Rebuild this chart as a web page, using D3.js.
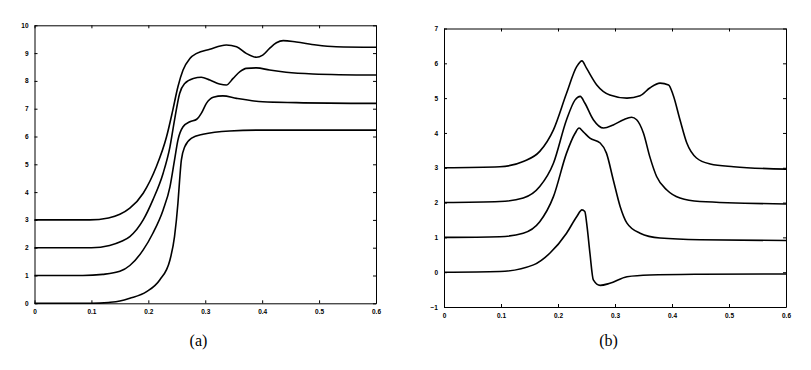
<!DOCTYPE html>
<html><head><meta charset="utf-8">
<script src="https://cdn.jsdelivr.net/npm/d3@7"></script>
<style>body{margin:0;background:#fff}svg{display:block}</style>
</head><body>
<svg id="c" width="811" height="370"></svg>
<script>
// ---- Data ----
const xTicks = [0, 0.1, 0.2, 0.3, 0.4, 0.5, 0.6];
const xTickLabels = ["0", "0.1", "0.2", "0.3", "0.4", "0.5", "0.6"];
const aYTicks = [0,1,2,3,4,5,6,7,8,9,10];
const bYTicks = [-1,0,1,2,3,4,5,6,7];
const captions = ["(a)", "(b)"];

// Panel (a): four shifted step curves
const a0 = [[0,0],[0.1,0],[0.13,0.03],[0.15,0.08],[0.1675,0.18],[0.197,0.42],[0.22,0.84],[0.238,1.56],[0.246,2.4],[0.252,3.6],[0.255,4.44],[0.258,5.15],[0.264,5.63],[0.276,5.94],[0.296,6.08],[0.343,6.2],[0.401,6.23],[0.6,6.23]];
const a1 = [[0,1],[0.085,1.0],[0.12,1.04],[0.15,1.15],[0.1675,1.36],[0.191,1.92],[0.208,2.52],[0.226,3.36],[0.238,4.19],[0.246,5.15],[0.252,5.87],[0.261,6.35],[0.273,6.53],[0.285,6.62],[0.293,6.83],[0.302,7.19],[0.314,7.41],[0.331,7.46],[0.355,7.37],[0.401,7.25],[0.46,7.22],[0.6,7.19]];
const a2 = [[0,2],[0.1,2.0],[0.132,2.08],[0.152,2.22],[0.1675,2.4],[0.191,3.0],[0.208,3.72],[0.226,4.68],[0.238,5.63],[0.246,6.59],[0.255,7.55],[0.264,7.91],[0.279,8.09],[0.293,8.13],[0.308,8.03],[0.325,7.89],[0.337,7.85],[0.349,8.09],[0.361,8.33],[0.372,8.45],[0.39,8.47],[0.413,8.39],[0.442,8.31],[0.489,8.25],[0.6,8.21]];
const a3 = [[0,3],[0.097,3.0],[0.13,3.07],[0.15,3.2],[0.1675,3.42],[0.191,3.96],[0.214,4.91],[0.232,5.99],[0.243,6.95],[0.252,7.79],[0.261,8.39],[0.273,8.81],[0.285,8.99],[0.308,9.14],[0.337,9.29],[0.355,9.23],[0.372,8.99],[0.39,8.85],[0.401,8.93],[0.413,9.17],[0.425,9.37],[0.437,9.45],[0.46,9.4],[0.495,9.29],[0.53,9.23],[0.6,9.21]];

// Panel (b): four shifted peak curves
const b0 = [[0,0],[0.098,0.02],[0.157,0.21],[0.186,0.55],[0.215,1.12],[0.233,1.6],[0.242,1.79],[0.247,1.74],[0.251,1.31],[0.256,0.55],[0.262,-0.22],[0.274,-0.38],[0.291,-0.32],[0.321,-0.13],[0.361,-0.08],[0.449,-0.06],[0.6,-0.05]];
const b1 = [[0,1],[0.098,1.02],[0.139,1.12],[0.168,1.45],[0.192,2.17],[0.215,3.42],[0.23,3.99],[0.237,4.14],[0.244,4.04],[0.256,3.85],[0.274,3.71],[0.285,3.42],[0.297,2.65],[0.309,1.89],[0.321,1.41],[0.344,1.12],[0.379,0.98],[0.449,0.93],[0.6,0.91]];
const b2 = [[0,2],[0.098,2.03],[0.139,2.13],[0.168,2.46],[0.192,3.13],[0.215,4.38],[0.23,4.95],[0.239,5.05],[0.247,4.86],[0.262,4.38],[0.28,4.14],[0.297,4.23],[0.315,4.38],[0.329,4.45],[0.338,4.38],[0.35,3.99],[0.361,3.32],[0.373,2.75],[0.391,2.36],[0.414,2.13],[0.449,2.03],[0.6,1.96]];
const b3 = [[0,3],[0.098,3.03],[0.139,3.18],[0.168,3.47],[0.192,4.09],[0.215,5.14],[0.233,5.91],[0.242,6.07],[0.25,5.86],[0.268,5.38],[0.291,5.09],[0.321,5.0],[0.344,5.07],[0.361,5.29],[0.379,5.43],[0.394,5.38],[0.402,5.09],[0.414,4.38],[0.426,3.71],[0.443,3.28],[0.467,3.11],[0.508,3.03],[0.6,2.96]];

const panels = [
  {series:[a0,a1,a2,a3], yDomain:[0,10], yTicks:aYTicks, x0:34.5, x1:376, y0:303.3, y1:25.3, cap:captions[0], capX:198.5},
  {series:[b0,b1,b2,b3], yDomain:[-1,7], yTicks:bYTicks, x0:444, x1:786, y0:307, y1:28.5, cap:captions[1], capX:608.5}
];

const svg = d3.select("#c");
const tickFont = "Liberation Sans, Arial, sans-serif";

panels.forEach(p => {
  const x = d3.scaleLinear().domain([0,0.6]).range([p.x0,p.x1]);
  const y = d3.scaleLinear().domain(p.yDomain).range([p.y0,p.y1]);
  const g = svg.append("g");

  const styleAxis = sel => {
    sel.select(".domain").attr("stroke","#000").attr("stroke-width",1);
    sel.selectAll(".tick line").attr("stroke","#000").attr("stroke-width",1);
    sel.selectAll(".tick text").attr("font-family",tickFont).attr("font-size",6.5).attr("font-weight","bold").attr("fill","#000");
  };
  g.append("g").attr("transform",`translate(0,${p.y0})`)
    .call(d3.axisBottom(x).tickValues(xTicks).tickFormat((d,i)=>xTickLabels[i]).tickSizeInner(-3).tickSizeOuter(0).tickPadding(6))
    .call(styleAxis);
  g.append("g").attr("transform",`translate(0,${p.y1})`)
    .call(d3.axisTop(x).tickValues(xTicks).tickFormat("").tickSizeInner(-3).tickSizeOuter(0))
    .call(styleAxis);
  g.append("g").attr("transform",`translate(${p.x0},0)`)
    .call(d3.axisLeft(y).tickValues(p.yTicks).tickFormat(d3.format("d")).tickSizeInner(-3).tickSizeOuter(0).tickPadding(6))
    .call(styleAxis);
  g.append("g").attr("transform",`translate(${p.x1},0)`)
    .call(d3.axisRight(y).tickValues(p.yTicks).tickFormat("").tickSizeInner(-3).tickSizeOuter(0))
    .call(styleAxis);

  const line = d3.line().x(d=>x(d[0])).y(d=>y(d[1])).curve(d3.curveMonotoneX);
  g.selectAll("path.curve").data(p.series).join("path")
    .attr("class","curve")
    .attr("d", line)
    .attr("fill","none").attr("stroke","#000").attr("stroke-width",1.6)
    .attr("stroke-linejoin","round");

  g.append("text").attr("x",p.capX).attr("y",346).attr("text-anchor","middle")
    .attr("font-family","Liberation Serif, Times New Roman, serif").attr("font-size",16)
    .text(p.cap);
});
</script>
</body></html>
